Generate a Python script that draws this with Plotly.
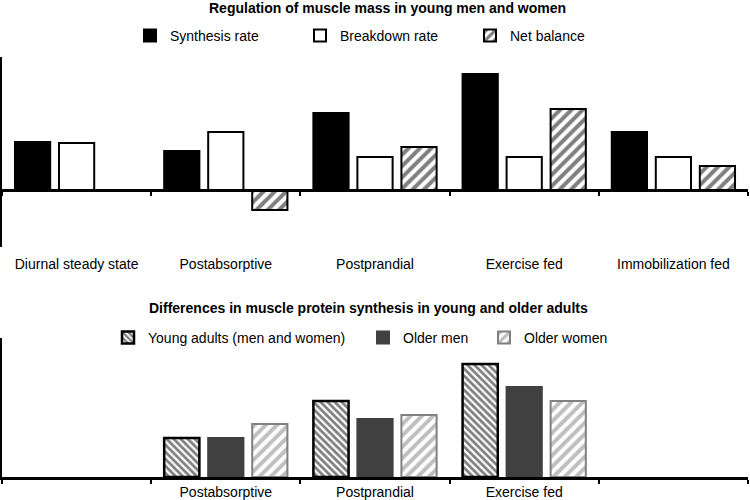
import plotly.graph_objects as go

# ---- data ----
categories = ["Diurnal steady state", "Postabsorptive", "Postprandial", "Exercise fed", "Immobilization fed"]
synthesis = [4.8, 3.9, 7.7, 11.6, 5.8]
breakdown = [4.7, 5.8, 3.3, 3.3, 3.3]
net_balance = [None, -2.0, 4.3, 8.1, 2.4]

bottom_tick_labels = ["", "Postabsorptive", "Postprandial", "Exercise fed", ""]
young = [None, 3.9, 7.6, 11.3, None]
older_men = [None, 3.9, 5.8, 9.0, None]
older_women = [None, 5.3, 6.2, 7.6, None]

title_top = "Regulation of muscle mass in young men and women"
title_bottom = "Differences in muscle protein synthesis in young and older adults"

FONT = "Arial, Liberation Sans, Helvetica, sans-serif"
W, H = 750, 500
ML, MR = 2, 2
PW = W - ML - MR


def px_x(px):
    return (px - ML) / PW


def px_y(py):
    return 1 - py / H


top_dom = [px_y(247), px_y(57)]
top_range = [-5.7, 13.3]
bot_dom = [px_y(477), px_y(338)]
bot_range = [0, 13.9]
zero_pos = top_dom[0] + (0 - top_range[0]) / (top_range[1] - top_range[0]) * (top_dom[1] - top_dom[0])

fig = go.Figure()

fig.add_trace(go.Bar(x=categories, y=synthesis, name="Synthesis rate", xaxis="x", yaxis="y",
                     marker=dict(color="black", line=dict(color="black", width=2)), legend="legend",
                     showlegend=True))
fig.add_trace(go.Bar(x=categories, y=breakdown, name="Breakdown rate", xaxis="x", yaxis="y",
                     marker=dict(color="white", line=dict(color="black", width=2)), legend="legend2",
                     showlegend=True))
fig.add_trace(go.Bar(x=categories, y=net_balance, name="Net balance", xaxis="x", yaxis="y",
                     marker=dict(color="white", line=dict(color="black", width=2),
                                 pattern=dict(shape="/", fgcolor="black", bgcolor="white", size=8, solidity=0.5)),
                     legend="legend3", showlegend=True))

fig.add_trace(go.Bar(x=categories, y=young, name="Young adults (men and women)", xaxis="x2", yaxis="y2",
                     marker=dict(color="white", line=dict(color="black", width=2.5),
                                 pattern=dict(shape="\\", fgcolor="black", bgcolor="white", size=5, solidity=0.55)),
                     legend="legend4", showlegend=True))
fig.add_trace(go.Bar(x=categories, y=older_men, name="Older men", xaxis="x2", yaxis="y2",
                     marker=dict(color="#404040", line=dict(color="#404040", width=2)), legend="legend5",
                     showlegend=True))
fig.add_trace(go.Bar(x=categories, y=older_women, name="Older women", xaxis="x2", yaxis="y2",
                     marker=dict(color="white", line=dict(color="#808080", width=2),
                                 pattern=dict(shape="/", fgcolor="#808080", bgcolor="white", size=8, solidity=0.5)),
                     legend="legend6", showlegend=True))

axis_common = dict(type="category", categoryorder="array", categoryarray=categories,
                   range=[-0.5, 4.5], showline=True, linecolor="black", linewidth=3,
                   ticks="outside", ticklen=4, tickwidth=2, tickcolor="black", tickson="boundaries",
                   showgrid=False, zeroline=False, automargin=False,
                   tickfont=dict(size=14, color="black", family=FONT))

fig.update_layout(
    width=W, height=H,
    margin=dict(l=ML, r=MR, t=0, b=0, autoexpand=False),
    paper_bgcolor="white", plot_bgcolor="white",
    font=dict(family=FONT, color="black", size=14),
    showlegend=True,
    barmode="group", bargap=0.115, bargroupgap=0.2,
    xaxis=dict(**axis_common, anchor="free", position=zero_pos, ticklabelstandoff=60),
    yaxis=dict(domain=top_dom, range=top_range, showline=True, linecolor="black", linewidth=3,
               showticklabels=False, ticks="", showgrid=False, zeroline=False),
    xaxis2=dict(**axis_common, anchor="y2", tickvals=categories, ticktext=bottom_tick_labels,
                ticklabelstandoff=0),
    yaxis2=dict(domain=bot_dom, range=bot_range, showline=True, linecolor="black", linewidth=3,
                showticklabels=False, ticks="", showgrid=False, zeroline=False),
    annotations=[
        dict(text="<b>" + title_top + "</b>", x=px_x(207), y=px_y(8), xref="paper", yref="paper",
             xanchor="left", yanchor="middle", showarrow=False, font=dict(size=14, family=FONT)),
        dict(text="<b>" + title_bottom + "</b>", x=px_x(147), y=px_y(308), xref="paper", yref="paper",
             xanchor="left", yanchor="middle", showarrow=False, font=dict(size=14, family=FONT)),
    ],
)

leg_common = dict(orientation="h", xanchor="left", yanchor="middle", bgcolor="rgba(0,0,0,0)",
                  font=dict(size=14, family=FONT, color="black"), itemwidth=30)
text_x_top = [170, 340, 510]
text_x_bot = [148, 403, 524]
for i, tx in enumerate(text_x_top + text_x_bot):
    name = "legend" if i == 0 else "legend%d" % (i + 1)
    yy = px_y(36) if i < 3 else px_y(338)
    fig.update_layout({name: dict(leg_common, x=px_x(tx - 40), y=yy)})

fig.write_html("out.html", config={"displayModeBar": False},
               post_script="document.body.style.margin='0';document.body.style.padding='0';")
